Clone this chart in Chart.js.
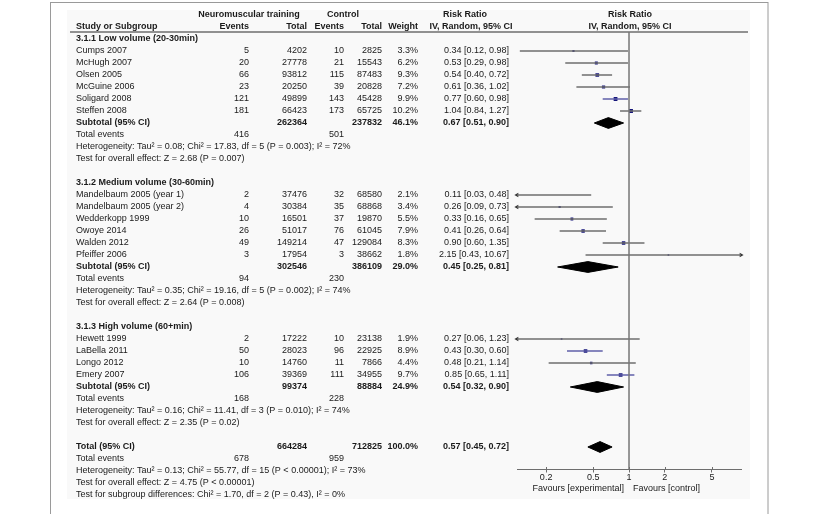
<!DOCTYPE html>
<html>
<head>
<meta charset="utf-8">
<script src="https://cdn.jsdelivr.net/npm/chart.js@4.4.0/dist/chart.umd.min.js"></script>
<style>
  html, body { margin: 0; padding: 0; background: #fff; }
  #wrap { width: 815px; height: 514px; position: relative; }
</style>
</head>
<body>
<div id="wrap"><canvas id="forest"></canvas></div>
<script>
/* Forest plot: neuromuscular training vs control, by training volume */

// --- data ---
const groupTitles = ['3.1.1 Low volume (20-30min)', '3.1.2 Medium volume (30-60min)', '3.1.3 High volume (60+min)'];

const studyNames = [
  'Cumps 2007', 'McHugh 2007', 'Olsen 2005', 'McGuine 2006', 'Soligard 2008', 'Steffen 2008',
  'Mandelbaum 2005 (year 1)', 'Mandelbaum 2005 (year 2)', 'Wedderkopp 1999', 'Owoye 2014', 'Walden 2012', 'Pfeiffer 2006',
  'Hewett 1999', 'LaBella 2011', 'Longo 2012', 'Emery 2007'
];
const studyGroup = [0, 0, 0, 0, 0, 0, 1, 1, 1, 1, 1, 1, 2, 2, 2, 2];
const expEvents  = [5, 20, 66, 23, 121, 181, 2, 4, 10, 26, 49, 3, 2, 50, 10, 106];
const expTotal   = [4202, 27778, 93812, 20250, 49899, 66423, 37476, 30384, 16501, 51017, 149214, 17954, 17222, 28023, 14760, 39369];
const ctlEvents  = [10, 21, 115, 39, 143, 173, 32, 35, 37, 76, 47, 3, 10, 96, 11, 111];
const ctlTotal   = [2825, 15543, 87483, 20828, 45428, 65725, 68580, 68868, 19870, 61045, 129084, 38662, 23138, 22925, 7866, 34955];
const weights    = [3.3, 6.2, 9.3, 7.2, 9.9, 10.2, 2.1, 3.4, 5.5, 7.9, 8.3, 1.8, 1.9, 8.9, 4.4, 9.7];
const rr         = [0.34, 0.53, 0.54, 0.61, 0.77, 1.04, 0.11, 0.26, 0.33, 0.41, 0.90, 2.15, 0.27, 0.43, 0.48, 0.85];
const rrLow      = [0.12, 0.29, 0.40, 0.36, 0.60, 0.84, 0.03, 0.09, 0.16, 0.26, 0.60, 0.43, 0.06, 0.30, 0.21, 0.65];
const rrHigh     = [0.98, 0.98, 0.72, 1.02, 0.98, 1.27, 0.48, 0.73, 0.65, 0.64, 1.35, 10.67, 1.23, 0.60, 1.14, 1.11];

const subExpTotal  = [262364, 302546, 99374];
const subCtlTotal  = [237832, 386109, 88884];
const subWeight    = [46.1, 29.0, 24.9];
const subRR        = [0.67, 0.45, 0.54];
const subLow       = [0.51, 0.25, 0.32];
const subHigh      = [0.90, 0.81, 0.90];
const subExpEvents = [416, 94, 168];
const subCtlEvents = [501, 230, 228];
const subHet = [
  'Heterogeneity: Tau² = 0.08; Chi² = 17.83, df = 5 (P = 0.003); I² = 72%',
  'Heterogeneity: Tau² = 0.35; Chi² = 19.16, df = 5 (P = 0.002); I² = 74%',
  'Heterogeneity: Tau² = 0.16; Chi² = 11.41, df = 3 (P = 0.010); I² = 74%'
];
const subTest = [
  'Test for overall effect: Z = 2.68 (P = 0.007)',
  'Test for overall effect: Z = 2.64 (P = 0.008)',
  'Test for overall effect: Z = 2.35 (P = 0.02)'
];

const totalCounts = [664284, 712825];        // experimental, control
const totalEvents = [678, 959];
const totalEffect = [0.57, 0.45, 0.72];      // RR, lower, upper
const totalWeight = 100.0;
const totalNotes = [
  'Heterogeneity: Tau² = 0.13; Chi² = 55.77, df = 15 (P < 0.00001); I² = 73%',
  'Test for overall effect: Z = 4.75 (P < 0.00001)',
  'Test for subgroup differences: Chi² = 1.70, df = 2 (P = 0.43), I² = 0%'
];

const axisTicks = [0.2, 0.5, 1, 2, 5];
const axisMin = 0.1136, axisMax = 8.8;

// --- styling ---
const FONT = '"Liberation Sans", Arial, sans-serif';
const INK = '#1a1a1a';
const LINE_GREY = '#6e6e6e';
const LINE_BLUE = '#5f5fa8';
const BOX = '#15157a';
const blueLines = new Set(['Soligard 2008', 'LaBella 2011', 'Emery 2007']);

// column anchors (x, px)
const COL = { study: 76, evE: 249, totE: 307, evC: 344, totC: 382, wt: 418, rr: 509 };

// --- row layout ---
const rows = [];
let r = 2;
groupTitles.forEach((t, g) => {
  rows.push({ kind: 'group', row: r++, g });
  studyNames.forEach((n, i) => { if (studyGroup[i] === g) rows.push({ kind: 'study', row: r++, i }); });
  rows.push({ kind: 'subtotal', row: r++, g });
  rows.push({ kind: 'events', row: r++, g });
  rows.push({ kind: 'het', row: r++, g });
  rows.push({ kind: 'test', row: r++, g });
  r++;
});
const totalRow = r;
rows.push({ kind: 'total', row: r++ });
rows.push({ kind: 'totEvents', row: r++ });
totalNotes.forEach(s => rows.push({ kind: 'note', row: r++, text: s }));

const fmt = v => v.toFixed(2);
const ciText = (e, l, h) => `${fmt(e)} [${fmt(l)}, ${fmt(h)}]`;
const clampX = v => Math.min(axisMax, Math.max(axisMin, v));

// --- datasets ---
const datasets = [];

// line of no effect
datasets.push({
  data: [{ x: 1, y: 1.4167 }, { x: 1, y: 37.875 }],
  showLine: true, borderColor: '#767676', borderWidth: 1.5, pointRadius: 0
});

const arrowPts = [], arrowRot = [];
const boxPts = [], boxRad = [];
rows.filter(o => o.kind === 'study').forEach(o => {
  const i = o.i;
  datasets.push({
    data: [{ x: clampX(rrLow[i]), y: o.row }, { x: clampX(rrHigh[i]), y: o.row }],
    showLine: true, pointRadius: 0, borderWidth: 1.3,
    borderColor: blueLines.has(studyNames[i]) ? LINE_BLUE : LINE_GREY
  });
  if (rrLow[i] < axisMin) { arrowPts.push({ x: axisMin, y: o.row }); arrowRot.push(270); }
  if (rrHigh[i] > axisMax) { arrowPts.push({ x: axisMax, y: o.row }); arrowRot.push(90); }
  boxPts.push({ x: rr[i], y: o.row });
  boxRad.push(0.85 * Math.sqrt(weights[i]));
});

datasets.push({
  data: boxPts, pointStyle: 'rect', pointRadius: boxRad,
  backgroundColor: BOX, borderColor: BOX, borderWidth: 0
});
datasets.push({
  data: arrowPts, pointStyle: 'triangle', rotation: arrowRot, pointRadius: 2.6,
  backgroundColor: '#333', borderColor: '#333', borderWidth: 0, clip: false
});

function diamond(est, lo, hi, row) {
  const h = 0.45;
  datasets.push({
    data: [{ x: lo, y: row }, { x: est, y: row - h }, { x: hi, y: row }, { x: est, y: row + h }, { x: lo, y: row }],
    showLine: true, fill: 'shape', tension: 0, pointRadius: 0,
    borderColor: '#000', borderWidth: 1, backgroundColor: '#000'
  });
}
rows.filter(o => o.kind === 'subtotal').forEach(o => diamond(subRR[o.g], subLow[o.g], subHigh[o.g], o.row));
diamond(totalEffect[0], totalEffect[1], totalEffect[2], totalRow);

// --- table / frame plugin ---
function text(ctx, s, x, y, align, bold) {
  ctx.font = `${bold ? 'bold ' : ''}9px ${FONT}`;
  ctx.textAlign = align;
  ctx.textBaseline = 'middle';
  ctx.fillStyle = INK;
  ctx.fillText(s, x, y);
}

const tablePlugin = {
  id: 'forestTable',
  beforeDraw(chart) {
    const ctx = chart.ctx;
    ctx.save();
    ctx.fillStyle = '#fff';
    ctx.fillRect(0, 0, chart.width, chart.height);
    ctx.fillStyle = '#f9f9f9';
    ctx.fillRect(67, 10, 683, 489);
    ctx.strokeStyle = '#9a9a9a';
    ctx.lineWidth = 1;
    ctx.strokeRect(50.5, 2.5, 717.5, 600);
    // header rule
    ctx.strokeStyle = LINE_GREY;
    ctx.lineWidth = 1.3;
    ctx.beginPath();
    ctx.moveTo(70, 32);
    ctx.lineTo(748, 32);
    ctx.stroke();
    ctx.restore();
  },
  afterDraw(chart) {
    const ctx = chart.ctx;
    const ys = chart.scales.y, xs = chart.scales.x;
    const Y = row => ys.getPixelForValue(row);
    const x1 = xs.getPixelForValue(1);
    ctx.save();

    // headers
    text(ctx, 'Neuromuscular training', 249, Y(0), 'center', true);
    text(ctx, 'Control', 343, Y(0), 'center', true);
    text(ctx, 'Risk Ratio', 465, Y(0), 'center', true);
    text(ctx, 'Risk Ratio', x1 + 1, Y(0), 'center', true);
    text(ctx, 'Study or Subgroup', COL.study, Y(1), 'left', true);
    text(ctx, 'Events', COL.evE, Y(1), 'right', true);
    text(ctx, 'Total', COL.totE, Y(1), 'right', true);
    text(ctx, 'Events', COL.evC, Y(1), 'right', true);
    text(ctx, 'Total', COL.totC, Y(1), 'right', true);
    text(ctx, 'Weight', COL.wt, Y(1), 'right', true);
    text(ctx, 'IV, Random, 95% CI', 471, Y(1), 'center', true);
    text(ctx, 'IV, Random, 95% CI', x1 + 1, Y(1), 'center', true);

    rows.forEach(o => {
      const y = Y(o.row);
      if (o.kind === 'group') {
        text(ctx, groupTitles[o.g], COL.study, y, 'left', true);
      } else if (o.kind === 'study') {
        const i = o.i;
        text(ctx, studyNames[i], COL.study, y, 'left', false);
        text(ctx, String(expEvents[i]), COL.evE, y, 'right', false);
        text(ctx, String(expTotal[i]), COL.totE, y, 'right', false);
        text(ctx, String(ctlEvents[i]), COL.evC, y, 'right', false);
        text(ctx, String(ctlTotal[i]), COL.totC, y, 'right', false);
        text(ctx, weights[i].toFixed(1) + '%', COL.wt, y, 'right', false);
        text(ctx, ciText(rr[i], rrLow[i], rrHigh[i]), COL.rr, y, 'right', false);
      } else if (o.kind === 'subtotal') {
        const g = o.g;
        text(ctx, 'Subtotal (95% CI)', COL.study, y, 'left', true);
        text(ctx, String(subExpTotal[g]), COL.totE, y, 'right', true);
        text(ctx, String(subCtlTotal[g]), COL.totC, y, 'right', true);
        text(ctx, subWeight[g].toFixed(1) + '%', COL.wt, y, 'right', true);
        text(ctx, ciText(subRR[g], subLow[g], subHigh[g]), COL.rr, y, 'right', true);
      } else if (o.kind === 'events') {
        text(ctx, 'Total events', COL.study, y, 'left', false);
        text(ctx, String(subExpEvents[o.g]), COL.evE, y, 'right', false);
        text(ctx, String(subCtlEvents[o.g]), COL.evC, y, 'right', false);
      } else if (o.kind === 'het') {
        text(ctx, subHet[o.g], COL.study, y, 'left', false);
      } else if (o.kind === 'test') {
        text(ctx, subTest[o.g], COL.study, y, 'left', false);
      } else if (o.kind === 'total') {
        text(ctx, 'Total (95% CI)', COL.study, y, 'left', true);
        text(ctx, String(totalCounts[0]), COL.totE, y, 'right', true);
        text(ctx, String(totalCounts[1]), COL.totC, y, 'right', true);
        text(ctx, totalWeight.toFixed(1) + '%', COL.wt, y, 'right', true);
        text(ctx, ciText(totalEffect[0], totalEffect[1], totalEffect[2]), COL.rr, y, 'right', true);
      } else if (o.kind === 'totEvents') {
        text(ctx, 'Total events', COL.study, y, 'left', false);
        text(ctx, String(totalEvents[0]), COL.evE, y, 'right', false);
        text(ctx, String(totalEvents[1]), COL.evC, y, 'right', false);
      } else if (o.kind === 'note') {
        text(ctx, o.text, COL.study, y, 'left', false);
      }
    });

    // upper half of tick marks
    ctx.strokeStyle = LINE_GREY;
    ctx.lineWidth = 1;
    axisTicks.forEach(t => {
      const px = Math.round(xs.getPixelForValue(t)) + 0.5;
      ctx.beginPath();
      ctx.moveTo(px, ys.bottom - 2.5);
      ctx.lineTo(px, ys.bottom);
      ctx.stroke();
    });

    text(ctx, 'Favours [experimental]', x1 - 5, 488.5, 'right', false);
    text(ctx, 'Favours [control]', x1 + 4, 488.5, 'left', false);
    ctx.restore();
  }
};

new Chart(document.getElementById('forest'), {
  type: 'scatter',
  data: { datasets },
  plugins: [tablePlugin],
  options: {
    responsive: true,
    maintainAspectRatio: false,
    animation: false,
    events: [],
    layout: { padding: { left: 517, right: 74, top: 32, bottom: 0 } },
    plugins: { legend: { display: false }, tooltip: { enabled: false } },
    scales: {
      x: {
        type: 'logarithmic',
        min: axisMin,
        max: axisMax,
        afterBuildTicks: s => { s.ticks = axisTicks.map(v => ({ value: v })); },
        afterFit: s => { s.height = 44.5; },
        ticks: {
          autoSkip: false, maxRotation: 0, padding: 0,
          color: INK, font: { family: FONT, size: 9 },
          callback: v => String(v)
        },
        grid: { drawOnChartArea: false, drawTicks: true, tickLength: 3, color: LINE_GREY },
        border: { display: true, color: LINE_GREY, width: 1 }
      },
      y: {
        type: 'linear',
        reverse: true,
        min: 1.4167,
        max: 37.875,
        display: false
      }
    }
  }
});
</script>
</body>
</html>
